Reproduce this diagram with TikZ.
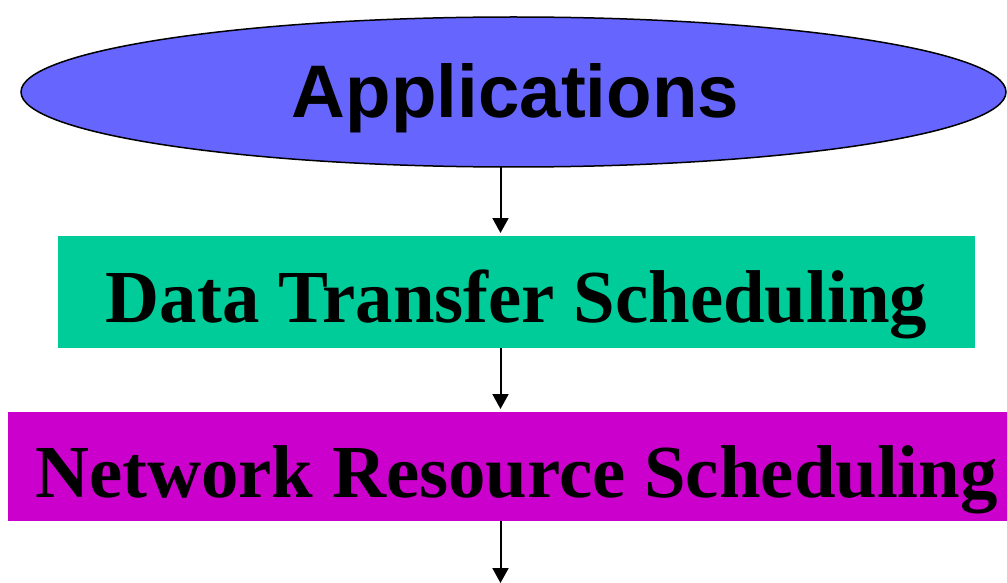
\documentclass[tikz,border=0pt]{standalone}
\usepackage{fontspec}
\setmainfont{Liberation Serif}
\setsansfont{Liberation Sans}
\usetikzlibrary{arrows.meta}
\definecolor{ellblue}{HTML}{6666FF}
\definecolor{boxgreen}{HTML}{00CC99}
\definecolor{boxmag}{HTML}{CC00CC}
\begin{document}
\begin{tikzpicture}[x=1pt,y=-1pt,
  lbl/.style={inner sep=0pt, anchor=base, font=\fontsize{74.8}{80}\selectfont\bfseries},
  conn/.style={line width=2pt, -{Triangle[width=16pt,length=15pt]}}]
\useasboundingbox (0,0) rectangle (1007,583);
% ellipse
\path[fill=ellblue, draw=black, line width=1.5pt] (513.5,92) ellipse [x radius=492.5, y radius=75];
\coordinate (ellbot) at (500.5,167);
\node[lbl, font=\fontsize{74.5}{80}\selectfont\sffamily\bfseries] (app) at (515.5,118) {Applications};
% green box
\path[fill=boxgreen] (58,236) rectangle (975,348);
\coordinate (gtop) at (500.5,236);
\coordinate (gbot) at (500.5,348);
\node[lbl] (dts) at (516.5,322) {Data Transfer Scheduling};
% magenta box
\path[fill=boxmag] (8,412) rectangle (1007,521);
\coordinate (mtop) at (500.5,412);
\coordinate (mbot) at (500.5,521);
\node[lbl] (nrs) at (516.5,497) {Network Resource Scheduling};
\coordinate (bend) at (500.5,583);
% connectors
\draw[conn] (ellbot) -- (500.5,233);
\draw[conn] (gbot) -- (500.5,409);
\draw[conn] (mbot) -- (bend);
\end{tikzpicture}
\end{document}
